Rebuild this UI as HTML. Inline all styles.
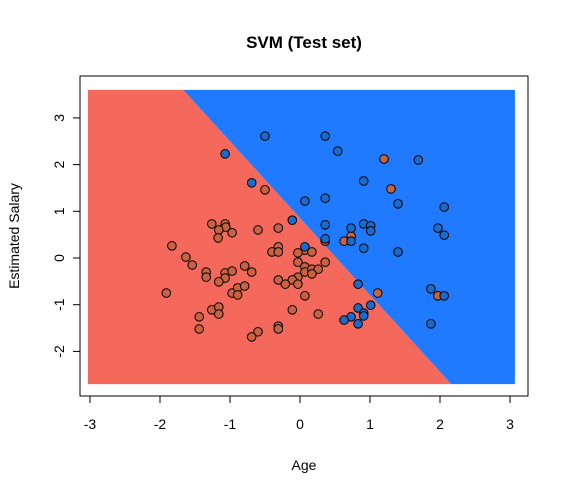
<!DOCTYPE html>
<html><head><meta charset="utf-8"><style>body{margin:0;background:#fff}svg{display:block}</style></head>
<body>
<svg id="chart" width="571" height="493" viewBox="0 0 571 493" xmlns="http://www.w3.org/2000/svg" font-family="Liberation Sans, Arial, sans-serif">
<text x="304" y="48" text-anchor="middle" font-size="17" font-weight="bold">SVM (Test set)</text>
<text x="304" y="470" text-anchor="middle" font-size="14">Age</text>
<text transform="translate(19,236) rotate(-90)" text-anchor="middle" font-size="14">Estimated Salary</text>
<g id="regions"></g>
<g id="axes"></g>
<g id="points"></g>
<rect x="80" y="76" width="448" height="320" fill="none" stroke="#000" stroke-width="1"/>
</svg>
<script>
const xTicks = [-3,-2,-1,0,1,2,3];
const yTicks = [-2,-1,0,1,2,3];
const gridX = [-3.03, 3.07];
const gridY = [-2.7, 3.6];
const boundaryTop = [-1.67, 3.6];
const boundaryBottom = [2.16, -2.7];
const redX = [-0.50,-1.26,-1.07,-1.06,-1.16,-0.97,-1.17,-0.60,-0.31,-1.83,-0.31,-0.40,-0.31,0.07,0.17,-0.03,-1.63,-1.54,-0.03,0.36,-1.34,-1.34,-1.07,-0.97,-1.07,-1.16,-0.79,-0.69,0.07,0.07,0.17,0.26,0.17,-0.03,-0.11,-0.31,-0.21,-0.03,-1.91,-0.97,-0.89,-0.79,-0.89,0.07,-1.26,-1.16,-1.16,-1.44,-1.44,-0.11,0.26,-0.31,-0.31,-0.60,-0.69,0.36,1.20,1.30,0.73,0.63,1.11,1.97];
const redY = [1.46,0.73,0.73,0.66,0.60,0.54,0.43,0.60,0.64,0.26,0.24,0.13,0.13,0.17,0.13,0.11,0.02,-0.15,-0.09,-0.09,-0.30,-0.41,-0.32,-0.28,-0.43,-0.51,-0.17,-0.30,-0.19,-0.30,-0.24,-0.24,-0.34,-0.41,-0.47,-0.47,-0.56,-0.56,-0.75,-0.75,-0.64,-0.60,-0.79,-0.81,-1.11,-1.05,-1.20,-1.26,-1.52,-1.11,-1.20,-1.46,-1.52,-1.58,-1.69,0.36,2.12,1.48,0.47,0.36,-0.75,-0.81];
const blueX = [-0.50,0.36,-1.07,-0.69,0.07,0.36,-0.11,0.36,0.36,0.07,0.54,1.69,0.91,1.40,2.06,0.73,0.91,1.01,1.01,1.97,2.06,0.73,0.91,1.40,0.83,1.01,0.83,0.91,0.91,0.73,0.63,0.83,1.87,2.06,1.87];
const blueY = [2.61,2.61,2.23,1.61,1.22,1.28,0.81,0.71,0.41,0.24,2.29,2.10,1.65,1.16,1.09,0.64,0.73,0.69,0.58,0.64,0.49,0.36,0.21,0.13,-0.56,-1.01,-1.07,-1.18,-1.24,-1.26,-1.33,-1.41,-0.66,-0.81,-1.41];

const NS='http://www.w3.org/2000/svg';
const sx = v => 300 + v*70;
const sy = v => 258 - v*46.7;
function mk(tag, attrs, parent){const e=document.createElementNS(NS,tag);for(const k in attrs)e.setAttribute(k,attrs[k]);parent.appendChild(e);return e;}

const reg=document.getElementById('regions');
const x0=sx(gridX[0]), x1=sx(gridX[1]), y0=sy(gridY[1]), y1=sy(gridY[0]);
const bt=sx(boundaryTop[0]), bb=sx(boundaryBottom[0]);
const redPoly=mk('polygon',{points:`${x0},${y0} ${bt},${y0} ${bb},${y1} ${x0},${y1}`,fill:'#f5695c'},reg);


const bluePoly=mk('polygon',{points:`${bt},${y0} ${x1},${y0} ${x1},${y1} ${bb},${y1}`,fill:'#1f7aff'},reg);



const ax=document.getElementById('axes');
xTicks.forEach(t=>{
  const l=mk('line',{x1:sx(t),x2:sx(t),y1:396,y2:403,stroke:'#000'},ax);
  
  
  const tx=mk('text',{x:sx(t),y:429,'text-anchor':'middle','font-size':'14'},ax);
  tx.textContent=t;
  
  
});
const xl=mk('line',{x1:sx(xTicks[0]),x2:sx(xTicks[xTicks.length-1]),y1:396,y2:396,stroke:'#000'},ax);


yTicks.forEach(t=>{
  const l=mk('line',{x1:73,x2:80,y1:sy(t),y2:sy(t),stroke:'#000'},ax);
  
  
  const tx=mk('text',{transform:`translate(64,${sy(t)}) rotate(-90)`,'text-anchor':'middle','font-size':'14'},ax);
  tx.textContent=t;
  
  
});
const yl=mk('line',{x1:80,x2:80,y1:sy(yTicks[0]),y2:sy(yTicks[yTicks.length-1]),stroke:'#000'},ax);



const pts=document.getElementById('points');
redX.forEach((v,i)=>{
  const c=mk('circle',{cx:sx(v),cy:sy(redY[i]),r:4.3,fill:'#c9623e',stroke:'#000','stroke-width':'1'},pts);
  
  
});
blueX.forEach((v,i)=>{
  const c=mk('circle',{cx:sx(v),cy:sy(blueY[i]),r:4.3,fill:'#1a6bcc',stroke:'#000','stroke-width':'1'},pts);
  
  
});
</script>
</body></html>
